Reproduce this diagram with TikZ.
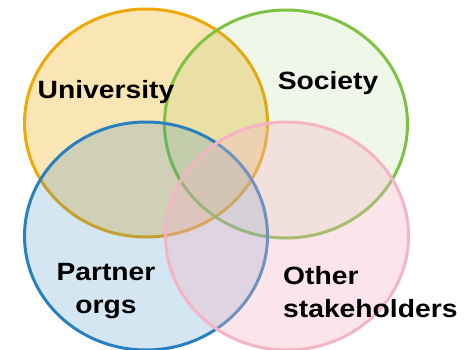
\documentclass[tikz,border=0pt]{standalone}
\usepackage{fontspec}
\setmainfont{Liberation Sans}
\usepackage{tikz}
\usetikzlibrary{positioning,shapes.geometric}
\definecolor{univcol}{RGB}{238,168,10}
\definecolor{soccol}{RGB}{125,194,67}
\definecolor{partcol}{RGB}{40,128,192}
\definecolor{othcol}{RGB}{244,180,196}
\tikzstyle{ring} = [ellipse, minimum width=243pt, minimum height=228pt, inner sep=0pt, line width=3pt]
\tikzstyle{label} = [font=\fontsize{25}{33}\selectfont\bfseries, inner sep=0pt]
\newcommand{\wide}[1]{\scalebox{1.13}[1]{#1}}

\begin{document}
\begin{tikzpicture}[x=1pt, y=-1pt]
\useasboundingbox (0,0) rectangle (467,349);
    % nodes
\node [ring, draw=univcol, fill=univcol, fill opacity=0.3] (univ) at (146,123) {};
\node [ring, draw=soccol, fill=soccol, fill opacity=0.12] (soc) at (286,124) {};
\node [ring, draw=partcol, fill=partcol, fill opacity=0.2] (part) at (146,236) {};
\node [ring, draw=othcol, fill=othcol, fill opacity=0.35] (oth) at (287,236) {};

\node [label] (univtxt) at (106,92) {\wide{University}};
\node [label] (soctxt) at (328,83) {\wide{Society}};
\node [label, align=center] (parttxt) at (106,291) {\wide{Partner}\\\wide{orgs}};
\node [label, align=left, anchor=west] (othtxt) at (283,292) {\wide{Other}\\\wide{stakeholders}};

   \end{tikzpicture}
\end{document}
